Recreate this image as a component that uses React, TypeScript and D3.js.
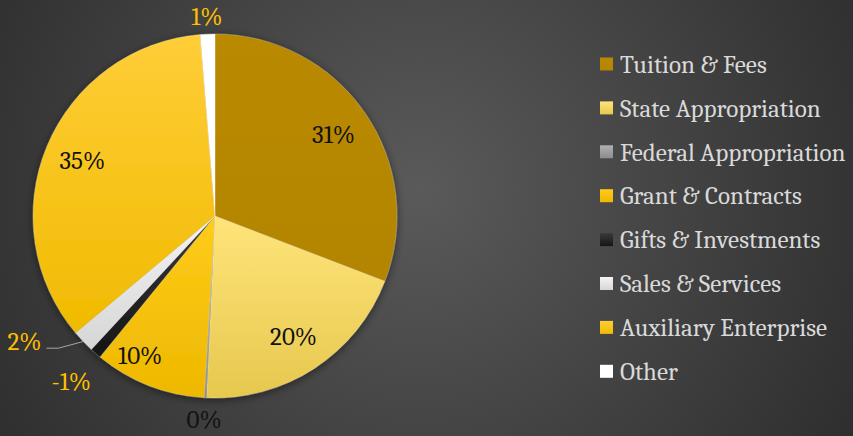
import React, { useEffect, useRef } from "react";
import * as d3 from "d3";

// revenue shares, clockwise from 12 o'clock
const categories = [
  "Tuition & Fees",
  "State Appropriation",
  "Federal Appropriation",
  "Grant & Contracts",
  "Gifts & Investments",
  "Sales & Services",
  "Auxiliary Enterprise",
  "Other",
];
const shares = [0.31, 0.2, 0.002, 0.1, -0.01, 0.02, 0.35, 0.013];

// [top, bottom] colours of each slice
const sliceColors = [
  ["#b98a00", "#b38500"],
  ["#ffe47a", "#e6c84e"],
  ["#b0b0b0", "#8c8c8c"],
  ["#ffcc1a", "#edb800"],
  ["#3a3a3a", "#151515"],
  ["#f4f4f4", "#d6d6d6"],
  ["#ffcd38", "#f0bb00"],
  ["#ffffff", "#ffffff"],
];
const labelInside = [true, true, false, true, false, false, true, false];

const App = () => {
  const ref = useRef<SVGSVGElement>(null);

  useEffect(() => {
    const width = 853;
    const height = 436;
    const cx = 215;
    const cy = 216;
    const r = 182;

    const svg = d3.select(ref.current);
    svg.selectAll("*").remove();

    const defs = svg.append("defs");
    const bg = defs
      .append("radialGradient")
      .attr("id", "bg")
      .attr("gradientUnits", "userSpaceOnUse")
      .attr("cx", 420)
      .attr("cy", 190)
      .attr("r", 520);
    bg.append("stop").attr("offset", "0%").attr("stop-color", "#5a5a5a");
    bg.append("stop").attr("offset", "100%").attr("stop-color", "#2c2c2c");

    sliceColors.forEach((c, i) => {
      const g = defs
        .append("linearGradient")
        .attr("id", `sl${i}`)
        .attr("x1", 0)
        .attr("y1", 0)
        .attr("x2", 0)
        .attr("y2", 1);
      g.append("stop").attr("offset", "0%").attr("stop-color", c[0]);
      g.append("stop").attr("offset", "100%").attr("stop-color", c[1]);
    });

    const shadow = defs.append("filter").attr("id", "shadow").attr("x", "-20%").attr("y", "-20%").attr("width", "140%").attr("height", "140%");
    shadow
      .append("feDropShadow")
      .attr("dx", 0)
      .attr("dy", 2)
      .attr("stdDeviation", 4)
      .attr("flood-color", "#000")
      .attr("flood-opacity", 0.5);

    svg.append("rect").attr("width", width).attr("height", height).attr("fill", "url(#bg)");

    const data = categories.map((name, i) => ({ name, value: shares[i], i }));

    const pie = d3
      .pie<any>()
      .sort(null)
      .value((d) => Math.abs(d.value));
    const arcs = pie(data);

    const arc = d3.arc<any>().innerRadius(0).outerRadius(r);

    const g = svg.append("g").attr("transform", `translate(${cx},${cy})`);

    g.append("g")
      .attr("filter", "url(#shadow)")
      .selectAll("path")
      .data(arcs)
      .join("path")
      .attr("d", arc)
      .attr("fill", (d) => `url(#sl${d.data.i})`)
      .attr("stroke", "rgba(255,255,255,0.35)")
      .attr("stroke-width", 0.6);

    // plain hyphen for negatives, like Excel
    const fmt = d3
      .formatLocale({
        decimal: ".",
        thousands: ",",
        grouping: [3],
        currency: ["$", ""],
        minus: "-",
      })
      .format(".0%");
    const labelFont = "Cambria, Caladea, 'DejaVu Serif', serif";
    const fs = 25;
    const mid = (d: any) => (d.startAngle + d.endAngle) / 2;
    const polar = (a: number, rr: number) => [Math.sin(a) * rr, -Math.cos(a) * rr];

    // inside labels (Grant label sits further out, as Excel's best fit puts it)
    const inPos = (d: any) =>
      d.data.name === "Grant & Contracts"
        ? polar(mid(d) + 0.12, r * 0.87)
        : polar(mid(d), r * 0.79);
    g.selectAll("text.in")
      .data(arcs.filter((d) => labelInside[d.data.i]))
      .join("text")
      .attr("class", "in")
      .attr("transform", (d) => `translate(${inPos(d)})`)
      .attr("text-anchor", "middle")
      .attr("dy", "0.35em")
      .attr("font-family", labelFont)
      .attr("font-size", fs)
      .attr("fill", "#111")
      .text((d) => fmt(d.data.value));

    // outside labels
    const outerLabels = arcs.filter((d) => !labelInside[d.data.i]);
    const outPos = (d: any) => {
      if (d.data.name === "Gifts & Investments") return polar(mid(d), r + 37);
      if (d.data.name === "Sales & Services") return polar(mid(d) + 0.18, r + 46);
      if (d.data.name === "Other") return polar(mid(d), r + 18);
      return polar(mid(d), r + 22);
    };

    // leader line for the Sales & Services label
    outerLabels
      .filter((d) => d.data.name === "Sales & Services")
      .forEach((d) => {
        const p0 = polar(mid(d), r) as [number, number];
        const p2 = outPos(d);
        g.append("path")
          .attr(
            "d",
            d3.line()([p0, [p2[0] + 34, p2[1] + 7], [p2[0] + 22, p2[1] + 7]])
          )
          .attr("fill", "none")
          .attr("stroke", "#a6a6a6")
          .attr("stroke-width", 1);
      });

    g.selectAll("text.out")
      .data(outerLabels)
      .join("text")
      .attr("class", "out")
      .attr("transform", (d) => `translate(${outPos(d)})`)
      .attr("text-anchor", "middle")
      .attr("dy", "0.35em")
      .attr("font-family", labelFont)
      .attr("font-size", fs)
      .attr("fill", (d) => (d.data.name === "Federal Appropriation" ? "#111" : "#ffc000"))
      .text((d) => fmt(d.data.value));

    // legend
    const legend = svg.append("g").attr("transform", "translate(600,64)");
    const rowH = 43.9;
    const rows = legend
      .selectAll("g")
      .data(data)
      .join("g")
      .attr("transform", (d) => `translate(0,${d.i * rowH})`);
    rows
      .append("rect")
      .attr("x", 0)
      .attr("y", -6.5)
      .attr("width", 13)
      .attr("height", 13)
      .attr("fill", (d) => `url(#sl${d.i})`);
    rows
      .append("text")
      .attr("x", 20)
      .attr("dy", "0.35em")
      .attr("font-family", labelFont)
      .attr("font-size", fs)
      .attr("fill", "#d9d9d9")
      .text((d) => d.name);
  }, []);

  return (
    <svg
      ref={ref}
      width={853}
      height={436}
      style={{ position: "absolute", left: 0, top: 0, display: "block" }}
    />
  );
};

export default App;
